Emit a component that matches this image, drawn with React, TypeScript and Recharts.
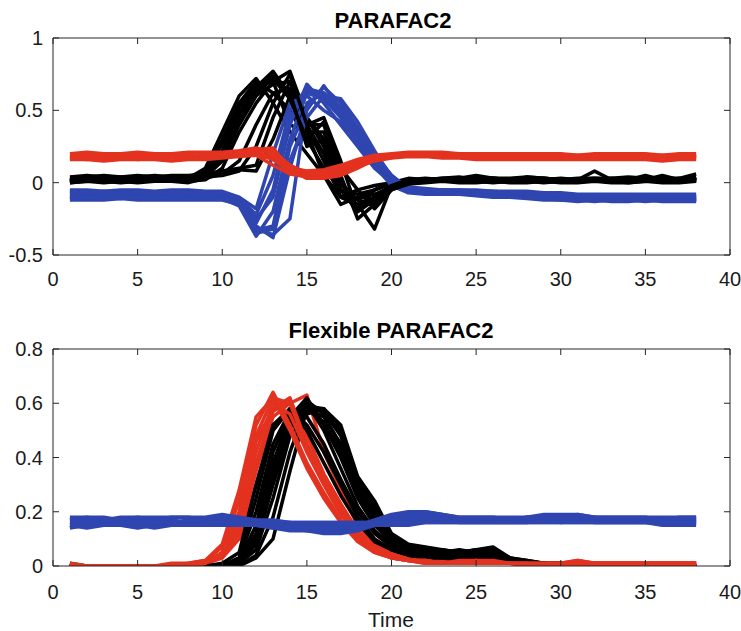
import React from "react";
import { LineChart, Line, XAxis, YAxis } from "recharts";

const TIME = [1, 2, 3, 4, 5, 6, 7, 8, 9, 10, 11, 12, 13, 14, 15, 16, 17, 18, 19, 20, 21, 22, 23, 24, 25, 26, 27, 28, 29, 30, 31, 32, 33, 34, 35, 36, 37, 38];
const X_TICKS = [0, 5, 10, 15, 20, 25, 30, 35, 40];
const TOP_Y_TICKS = [-0.5, 0, 0.5, 1];
const BOTTOM_Y_TICKS = [0, 0.2, 0.4, 0.6, 0.8];

// PARAFAC2 - red component
const topRed1 = [0.20, 0.21, 0.20, 0.20, 0.21, 0.20, 0.20, 0.21, 0.21, 0.21, 0.22, 0.24, 0.20, 0.10, 0.08, 0.09, 0.12, 0.16, 0.19, 0.20, 0.21, 0.21, 0.21, 0.20, 0.20, 0.20, 0.20, 0.20, 0.20, 0.20, 0.19, 0.20, 0.20, 0.20, 0.20, 0.19, 0.20, 0.20];
const topRed2 = [0.18, 0.18, 0.19, 0.18, 0.18, 0.18, 0.19, 0.18, 0.19, 0.19, 0.20, 0.22, 0.22, 0.12, 0.07, 0.06, 0.08, 0.13, 0.17, 0.19, 0.20, 0.20, 0.19, 0.19, 0.19, 0.18, 0.19, 0.19, 0.18, 0.19, 0.19, 0.18, 0.19, 0.18, 0.19, 0.18, 0.19, 0.18];
const topRed3 = [0.17, 0.16, 0.17, 0.17, 0.16, 0.17, 0.17, 0.17, 0.17, 0.18, 0.19, 0.20, 0.16, 0.08, 0.05, 0.05, 0.07, 0.12, 0.16, 0.18, 0.19, 0.19, 0.18, 0.18, 0.17, 0.18, 0.17, 0.17, 0.17, 0.17, 0.17, 0.17, 0.17, 0.17, 0.17, 0.17, 0.17, 0.17];
const topRed4 = [0.16, 0.16, 0.15, 0.16, 0.16, 0.16, 0.15, 0.16, 0.16, 0.17, 0.18, 0.19, 0.12, 0.06, 0.04, 0.04, 0.06, 0.11, 0.15, 0.17, 0.18, 0.18, 0.17, 0.17, 0.16, 0.16, 0.16, 0.16, 0.16, 0.16, 0.16, 0.16, 0.16, 0.16, 0.16, 0.15, 0.16, 0.16];
const topRed5 = [0.19, 0.19, 0.18, 0.19, 0.19, 0.19, 0.18, 0.19, 0.18, 0.20, 0.21, 0.23, 0.24, 0.09, 0.03, 0.03, 0.05, 0.10, 0.16, 0.18, 0.20, 0.20, 0.20, 0.19, 0.19, 0.19, 0.19, 0.18, 0.19, 0.18, 0.18, 0.19, 0.18, 0.19, 0.18, 0.19, 0.18, 0.19];
const topRed6 = [0.17, 0.18, 0.17, 0.17, 0.18, 0.17, 0.18, 0.17, 0.18, 0.18, 0.20, 0.21, 0.18, 0.10, 0.06, 0.07, 0.10, 0.14, 0.18, 0.19, 0.19, 0.20, 0.19, 0.18, 0.18, 0.18, 0.18, 0.18, 0.18, 0.18, 0.18, 0.18, 0.18, 0.18, 0.18, 0.18, 0.18, 0.18];

// PARAFAC2 - black component
const topBlack1 = [0.02, 0.03, 0.02, 0.03, 0.02, 0.03, 0.03, 0.04, 0.08, 0.30, 0.55, 0.70, 0.62, 0.50, 0.30, 0.10, -0.05, -0.08, -0.05, 0.00, 0.01, 0.02, 0.02, 0.01, 0.02, 0.01, 0.02, 0.02, 0.01, 0.02, 0.02, 0.02, 0.01, 0.02, 0.01, 0.02, 0.02, 0.02];
const topBlack2 = [0.01, 0.02, 0.02, 0.01, 0.02, 0.02, 0.02, 0.02, 0.05, 0.22, 0.48, 0.66, 0.77, 0.60, 0.40, 0.20, -0.10, -0.15, -0.10, -0.02, 0.01, 0.01, 0.02, 0.02, 0.01, 0.02, 0.02, 0.01, 0.02, 0.01, 0.02, 0.08, 0.02, 0.01, 0.02, 0.01, 0.02, 0.03];
const topBlack3 = [0.00, 0.01, 0.01, 0.00, 0.01, 0.01, 0.01, 0.01, 0.02, 0.10, 0.35, 0.55, 0.70, 0.77, 0.45, 0.25, -0.05, -0.20, -0.12, -0.03, 0.00, 0.01, 0.01, 0.02, 0.01, 0.00, 0.01, 0.01, 0.00, 0.01, 0.01, 0.01, 0.01, 0.00, 0.01, 0.02, 0.01, 0.01];
const topBlack4 = [0.01, 0.02, 0.01, 0.01, 0.02, 0.01, 0.02, 0.02, 0.03, 0.06, 0.15, 0.40, 0.62, 0.65, 0.38, 0.15, -0.10, -0.15, -0.32, -0.02, 0.01, 0.02, 0.01, 0.02, 0.02, 0.03, 0.02, 0.01, 0.02, 0.02, 0.01, 0.02, 0.02, 0.02, 0.05, 0.02, 0.02, 0.03];
const topBlack5 = [0.03, 0.04, 0.05, 0.04, 0.04, 0.05, 0.04, 0.04, 0.06, 0.08, 0.10, 0.12, 0.45, 0.70, 0.40, 0.40, 0.05, -0.25, -0.15, -0.05, 0.02, 0.03, 0.02, 0.03, 0.05, 0.03, 0.03, 0.04, 0.03, 0.02, 0.03, 0.03, 0.03, 0.04, 0.03, 0.03, 0.03, 0.06];
const topBlack6 = [0.00, 0.01, 0.00, 0.01, 0.00, 0.01, 0.01, 0.00, 0.03, 0.18, 0.42, 0.62, 0.72, 0.58, 0.30, 0.42, 0.10, -0.05, -0.18, -0.05, -0.01, 0.00, 0.01, 0.00, 0.00, 0.01, 0.00, 0.00, 0.01, 0.00, 0.00, 0.01, 0.00, 0.00, 0.01, 0.00, 0.00, 0.01];
const topBlack7 = [0.02, 0.01, 0.02, 0.02, 0.01, 0.02, 0.02, 0.02, 0.07, 0.27, 0.52, 0.68, 0.70, 0.40, 0.35, 0.05, -0.15, -0.10, -0.08, -0.03, 0.02, 0.01, 0.02, 0.01, 0.03, 0.02, 0.01, 0.04, 0.03, 0.02, 0.01, 0.02, 0.03, 0.02, 0.02, 0.01, 0.03, 0.02];
const topBlack8 = [0.04, 0.05, 0.04, 0.04, 0.05, 0.04, 0.05, 0.05, 0.06, 0.07, 0.09, 0.08, 0.30, 0.60, 0.45, 0.30, 0.00, -0.18, -0.05, 0.00, 0.03, 0.02, 0.03, 0.03, 0.02, 0.03, 0.02, 0.03, 0.02, 0.03, 0.02, 0.02, 0.02, 0.02, 0.02, 0.03, 0.02, 0.02];
const topBlack9 = [0.01, 0.01, 0.02, 0.02, 0.02, 0.02, 0.01, 0.02, 0.04, 0.15, 0.40, 0.60, 0.68, 0.70, 0.35, 0.35, 0.00, -0.12, -0.05, -0.01, 0.01, 0.02, 0.02, 0.02, 0.02, 0.02, 0.02, 0.02, 0.02, 0.02, 0.02, 0.02, 0.02, 0.02, 0.02, 0.02, 0.02, 0.02];
const topBlack10 = [0.03, 0.02, 0.03, 0.03, 0.02, 0.03, 0.02, 0.03, 0.10, 0.35, 0.60, 0.72, 0.55, 0.35, 0.20, 0.05, -0.10, -0.05, -0.02, 0.00, 0.02, 0.01, 0.02, 0.02, 0.01, 0.02, 0.01, 0.02, 0.02, 0.01, 0.02, 0.01, 0.02, 0.01, 0.02, 0.02, 0.01, 0.02];
const topBlack11 = [0.02, 0.03, 0.03, 0.02, 0.03, 0.03, 0.03, 0.03, 0.04, 0.05, 0.08, 0.25, 0.55, 0.75, 0.40, 0.45, 0.15, -0.20, -0.10, -0.02, 0.02, 0.02, 0.03, 0.04, 0.02, 0.03, 0.02, 0.02, 0.03, 0.02, 0.02, 0.03, 0.02, 0.03, 0.02, 0.05, 0.02, 0.03];
const topBlack12 = [0.01, 0.02, 0.01, 0.02, 0.01, 0.02, 0.02, 0.01, 0.05, 0.20, 0.45, 0.64, 0.74, 0.62, 0.25, 0.30, -0.05, -0.12, -0.15, -0.04, 0.00, 0.01, 0.01, 0.01, 0.02, 0.01, 0.01, 0.01, 0.01, 0.01, 0.01, 0.01, 0.01, 0.01, 0.01, 0.01, 0.01, 0.04];

// PARAFAC2 - blue component
const topBlue1 = [-0.06, -0.07, -0.06, -0.07, -0.06, -0.07, -0.07, -0.06, -0.07, -0.08, -0.12, -0.25, -0.10, 0.40, 0.68, 0.55, 0.40, 0.25, 0.10, 0.00, -0.04, -0.05, -0.05, -0.06, -0.06, -0.07, -0.07, -0.08, -0.08, -0.09, -0.09, -0.10, -0.09, -0.10, -0.09, -0.10, -0.10, -0.09];
const topBlue2 = [-0.08, -0.09, -0.08, -0.08, -0.09, -0.08, -0.09, -0.08, -0.09, -0.09, -0.14, -0.30, -0.38, 0.10, 0.50, 0.67, 0.50, 0.32, 0.15, 0.02, -0.05, -0.06, -0.06, -0.07, -0.07, -0.08, -0.08, -0.09, -0.09, -0.10, -0.10, -0.10, -0.11, -0.10, -0.11, -0.11, -0.10, -0.11];
const topBlue3 = [-0.10, -0.11, -0.10, -0.10, -0.11, -0.10, -0.11, -0.10, -0.10, -0.11, -0.16, -0.37, -0.20, 0.30, 0.62, 0.58, 0.45, 0.28, 0.12, 0.00, -0.06, -0.07, -0.07, -0.07, -0.08, -0.09, -0.09, -0.10, -0.11, -0.11, -0.12, -0.12, -0.12, -0.12, -0.12, -0.12, -0.12, -0.12];
const topBlue4 = [-0.12, -0.12, -0.12, -0.11, -0.12, -0.12, -0.12, -0.12, -0.12, -0.12, -0.15, -0.32, -0.36, -0.25, 0.55, 0.62, 0.48, 0.30, 0.12, -0.02, -0.07, -0.08, -0.08, -0.08, -0.09, -0.10, -0.10, -0.11, -0.12, -0.12, -0.13, -0.12, -0.13, -0.13, -0.12, -0.13, -0.13, -0.13];
const topBlue5 = [-0.05, -0.05, -0.06, -0.05, -0.05, -0.06, -0.05, -0.05, -0.06, -0.06, -0.10, -0.18, 0.20, 0.55, 0.60, 0.50, 0.42, 0.30, 0.15, 0.03, -0.03, -0.04, -0.05, -0.05, -0.05, -0.06, -0.06, -0.06, -0.07, -0.07, -0.08, -0.08, -0.08, -0.08, -0.08, -0.08, -0.08, -0.08];
const topBlue6 = [-0.07, -0.08, -0.07, -0.08, -0.07, -0.08, -0.08, -0.07, -0.08, -0.09, -0.13, -0.28, -0.05, 0.45, 0.64, 0.60, 0.48, 0.35, 0.18, 0.05, -0.04, -0.06, -0.06, -0.06, -0.07, -0.07, -0.08, -0.09, -0.09, -0.10, -0.10, -0.11, -0.10, -0.11, -0.11, -0.10, -0.11, -0.11];
const topBlue7 = [-0.09, -0.10, -0.09, -0.10, -0.10, -0.09, -0.10, -0.10, -0.09, -0.10, -0.13, -0.33, -0.30, 0.25, 0.52, 0.66, 0.55, 0.38, 0.20, 0.05, -0.05, -0.06, -0.07, -0.07, -0.08, -0.08, -0.09, -0.10, -0.10, -0.11, -0.11, -0.12, -0.12, -0.11, -0.12, -0.12, -0.12, -0.12];
const topBlue8 = [-0.06, -0.06, -0.07, -0.06, -0.06, -0.07, -0.06, -0.06, -0.07, -0.07, -0.11, -0.22, 0.05, 0.50, 0.65, 0.62, 0.52, 0.36, 0.18, 0.04, -0.03, -0.05, -0.05, -0.05, -0.06, -0.06, -0.07, -0.07, -0.08, -0.08, -0.09, -0.09, -0.09, -0.09, -0.09, -0.09, -0.09, -0.09];
const topBlue9 = [-0.11, -0.10, -0.11, -0.11, -0.10, -0.11, -0.10, -0.11, -0.11, -0.11, -0.15, -0.35, -0.32, 0.15, 0.45, 0.60, 0.58, 0.42, 0.22, 0.04, -0.06, -0.07, -0.07, -0.08, -0.08, -0.09, -0.10, -0.10, -0.11, -0.12, -0.12, -0.13, -0.12, -0.12, -0.13, -0.12, -0.12, -0.12];

// Flexible PARAFAC2 - red component
const botRed1 = [0.00, 0.00, 0.00, 0.00, 0.00, 0.00, 0.00, 0.01, 0.02, 0.07, 0.24, 0.52, 0.64, 0.52, 0.38, 0.27, 0.17, 0.10, 0.05, 0.03, 0.02, 0.01, 0.01, 0.01, 0.01, 0.01, 0.01, 0.00, 0.00, 0.00, 0.00, 0.00, 0.00, 0.00, 0.00, 0.00, 0.00, 0.00];
const botRed2 = [0.00, 0.00, 0.00, 0.00, 0.00, 0.00, 0.00, 0.00, 0.01, 0.05, 0.20, 0.46, 0.58, 0.62, 0.45, 0.32, 0.21, 0.12, 0.06, 0.03, 0.02, 0.02, 0.01, 0.02, 0.02, 0.01, 0.01, 0.01, 0.01, 0.01, 0.01, 0.01, 0.01, 0.01, 0.01, 0.01, 0.01, 0.01];
const botRed3 = [0.00, 0.00, 0.00, 0.00, 0.00, 0.00, 0.00, 0.00, 0.01, 0.03, 0.12, 0.35, 0.55, 0.60, 0.63, 0.42, 0.28, 0.15, 0.08, 0.04, 0.02, 0.02, 0.02, 0.02, 0.03, 0.02, 0.01, 0.01, 0.01, 0.01, 0.02, 0.01, 0.01, 0.01, 0.01, 0.01, 0.01, 0.01];
const botRed4 = [0.01, 0.00, 0.00, 0.00, 0.00, 0.00, 0.00, 0.00, 0.01, 0.04, 0.16, 0.42, 0.60, 0.56, 0.42, 0.30, 0.19, 0.11, 0.06, 0.03, 0.02, 0.02, 0.01, 0.01, 0.02, 0.01, 0.01, 0.00, 0.00, 0.00, 0.01, 0.00, 0.00, 0.00, 0.00, 0.00, 0.00, 0.00];
const botRed5 = [0.00, 0.00, 0.00, 0.00, 0.00, 0.00, 0.00, 0.00, 0.01, 0.03, 0.10, 0.30, 0.50, 0.58, 0.55, 0.45, 0.30, 0.18, 0.09, 0.05, 0.03, 0.03, 0.02, 0.02, 0.02, 0.02, 0.01, 0.01, 0.01, 0.01, 0.01, 0.01, 0.01, 0.01, 0.01, 0.01, 0.01, 0.01];
const botRed6 = [0.00, 0.00, 0.00, 0.00, 0.00, 0.00, 0.01, 0.01, 0.02, 0.08, 0.28, 0.55, 0.62, 0.50, 0.36, 0.25, 0.16, 0.09, 0.05, 0.03, 0.02, 0.01, 0.01, 0.01, 0.01, 0.01, 0.01, 0.01, 0.00, 0.00, 0.00, 0.00, 0.00, 0.00, 0.00, 0.00, 0.00, 0.00];
const botRed7 = [0.00, 0.00, 0.00, 0.00, 0.00, 0.00, 0.00, 0.00, 0.01, 0.05, 0.18, 0.48, 0.62, 0.60, 0.44, 0.31, 0.20, 0.12, 0.06, 0.03, 0.02, 0.02, 0.01, 0.01, 0.02, 0.02, 0.01, 0.01, 0.01, 0.01, 0.02, 0.01, 0.01, 0.01, 0.01, 0.01, 0.01, 0.01];
const botRed8 = [0.00, 0.00, 0.00, 0.00, 0.00, 0.00, 0.00, 0.00, 0.01, 0.04, 0.14, 0.38, 0.57, 0.61, 0.48, 0.34, 0.23, 0.13, 0.07, 0.04, 0.03, 0.02, 0.02, 0.02, 0.03, 0.02, 0.01, 0.01, 0.01, 0.01, 0.01, 0.01, 0.01, 0.01, 0.01, 0.01, 0.01, 0.01];

// Flexible PARAFAC2 - black component
const botBlack1 = [0.01, 0.00, 0.00, 0.00, 0.00, 0.00, 0.00, 0.00, 0.00, 0.01, 0.05, 0.30, 0.52, 0.58, 0.50, 0.38, 0.26, 0.16, 0.09, 0.06, 0.04, 0.03, 0.03, 0.02, 0.02, 0.02, 0.01, 0.01, 0.00, 0.00, 0.00, 0.00, 0.00, 0.00, 0.00, 0.00, 0.00, 0.00];
const botBlack2 = [0.00, 0.00, 0.00, 0.00, 0.00, 0.00, 0.00, 0.00, 0.00, 0.00, 0.03, 0.20, 0.45, 0.57, 0.55, 0.45, 0.32, 0.20, 0.12, 0.07, 0.05, 0.04, 0.04, 0.03, 0.03, 0.03, 0.02, 0.01, 0.01, 0.00, 0.00, 0.00, 0.00, 0.00, 0.00, 0.00, 0.00, 0.00];
const botBlack3 = [0.00, 0.00, 0.00, 0.00, 0.00, 0.00, 0.00, 0.00, 0.00, 0.00, 0.02, 0.12, 0.38, 0.55, 0.62, 0.52, 0.40, 0.25, 0.15, 0.09, 0.06, 0.05, 0.04, 0.04, 0.05, 0.04, 0.02, 0.01, 0.01, 0.00, 0.00, 0.00, 0.00, 0.00, 0.00, 0.00, 0.00, 0.00];
const botBlack4 = [0.00, 0.00, 0.00, 0.00, 0.00, 0.00, 0.00, 0.00, 0.00, 0.00, 0.01, 0.06, 0.25, 0.48, 0.56, 0.58, 0.52, 0.33, 0.24, 0.12, 0.08, 0.07, 0.06, 0.05, 0.06, 0.07, 0.03, 0.02, 0.01, 0.01, 0.00, 0.00, 0.00, 0.00, 0.00, 0.00, 0.00, 0.00];
const botBlack5 = [0.00, 0.00, 0.00, 0.00, 0.00, 0.00, 0.00, 0.00, 0.00, 0.00, 0.00, 0.03, 0.10, 0.35, 0.58, 0.55, 0.45, 0.30, 0.20, 0.11, 0.07, 0.06, 0.05, 0.06, 0.05, 0.06, 0.03, 0.01, 0.01, 0.00, 0.00, 0.00, 0.00, 0.00, 0.00, 0.00, 0.00, 0.00];
const botBlack6 = [0.00, 0.00, 0.00, 0.00, 0.00, 0.00, 0.00, 0.00, 0.00, 0.00, 0.02, 0.15, 0.42, 0.56, 0.60, 0.50, 0.36, 0.22, 0.13, 0.08, 0.05, 0.04, 0.03, 0.03, 0.04, 0.03, 0.02, 0.01, 0.00, 0.00, 0.00, 0.00, 0.00, 0.00, 0.00, 0.00, 0.00, 0.00];
const botBlack7 = [0.00, 0.00, 0.00, 0.00, 0.00, 0.00, 0.00, 0.00, 0.00, 0.00, 0.01, 0.08, 0.30, 0.50, 0.60, 0.57, 0.48, 0.28, 0.18, 0.10, 0.07, 0.06, 0.05, 0.05, 0.06, 0.05, 0.02, 0.01, 0.00, 0.00, 0.00, 0.00, 0.00, 0.00, 0.00, 0.00, 0.00, 0.00];
const botBlack8 = [0.00, 0.00, 0.00, 0.00, 0.00, 0.00, 0.00, 0.00, 0.00, 0.00, 0.01, 0.10, 0.35, 0.54, 0.58, 0.53, 0.42, 0.27, 0.17, 0.09, 0.06, 0.05, 0.04, 0.04, 0.04, 0.04, 0.02, 0.01, 0.00, 0.00, 0.00, 0.00, 0.00, 0.00, 0.00, 0.00, 0.00, 0.00];
const botBlack9 = [0.00, 0.00, 0.00, 0.00, 0.00, 0.00, 0.00, 0.00, 0.00, 0.00, 0.03, 0.25, 0.50, 0.58, 0.52, 0.42, 0.30, 0.18, 0.10, 0.06, 0.04, 0.03, 0.03, 0.03, 0.02, 0.02, 0.01, 0.01, 0.00, 0.00, 0.00, 0.00, 0.00, 0.00, 0.00, 0.00, 0.00, 0.00];
const botBlack10 = [0.00, 0.00, 0.00, 0.00, 0.00, 0.00, 0.00, 0.00, 0.00, 0.00, 0.00, 0.04, 0.18, 0.42, 0.59, 0.58, 0.50, 0.32, 0.22, 0.11, 0.07, 0.06, 0.06, 0.05, 0.05, 0.06, 0.03, 0.02, 0.01, 0.00, 0.00, 0.00, 0.00, 0.00, 0.00, 0.00, 0.00, 0.00];
const botBlack11 = [0.00, 0.00, 0.00, 0.00, 0.00, 0.00, 0.00, 0.00, 0.00, 0.00, 0.01, 0.09, 0.33, 0.52, 0.61, 0.56, 0.44, 0.30, 0.19, 0.10, 0.06, 0.05, 0.05, 0.04, 0.05, 0.05, 0.02, 0.01, 0.00, 0.00, 0.00, 0.00, 0.00, 0.00, 0.00, 0.00, 0.00, 0.00];

// Flexible PARAFAC2 - blue component
const botBlue1 = [0.18, 0.18, 0.17, 0.18, 0.18, 0.18, 0.18, 0.18, 0.18, 0.19, 0.18, 0.17, 0.16, 0.16, 0.15, 0.14, 0.14, 0.15, 0.17, 0.19, 0.20, 0.20, 0.19, 0.18, 0.18, 0.18, 0.18, 0.18, 0.19, 0.19, 0.19, 0.18, 0.18, 0.18, 0.18, 0.18, 0.18, 0.18];
const botBlue2 = [0.16, 0.16, 0.17, 0.16, 0.16, 0.16, 0.17, 0.16, 0.17, 0.17, 0.16, 0.16, 0.16, 0.16, 0.16, 0.16, 0.16, 0.16, 0.16, 0.17, 0.17, 0.17, 0.17, 0.17, 0.17, 0.17, 0.17, 0.17, 0.17, 0.17, 0.17, 0.17, 0.17, 0.17, 0.17, 0.17, 0.17, 0.17];
const botBlue3 = [0.14, 0.15, 0.15, 0.15, 0.14, 0.15, 0.15, 0.15, 0.15, 0.15, 0.15, 0.15, 0.15, 0.15, 0.15, 0.15, 0.15, 0.15, 0.15, 0.15, 0.15, 0.16, 0.16, 0.16, 0.16, 0.16, 0.16, 0.16, 0.16, 0.16, 0.16, 0.16, 0.16, 0.16, 0.16, 0.15, 0.15, 0.15];
const botBlue4 = [0.17, 0.17, 0.16, 0.17, 0.17, 0.17, 0.16, 0.17, 0.17, 0.17, 0.16, 0.15, 0.14, 0.14, 0.13, 0.13, 0.13, 0.14, 0.16, 0.18, 0.19, 0.19, 0.18, 0.17, 0.17, 0.17, 0.17, 0.18, 0.18, 0.18, 0.18, 0.18, 0.17, 0.17, 0.17, 0.17, 0.17, 0.17];
const botBlue5 = [0.15, 0.14, 0.15, 0.15, 0.15, 0.14, 0.15, 0.15, 0.15, 0.16, 0.16, 0.15, 0.14, 0.13, 0.13, 0.12, 0.12, 0.13, 0.15, 0.17, 0.18, 0.18, 0.17, 0.16, 0.16, 0.16, 0.16, 0.16, 0.16, 0.16, 0.17, 0.16, 0.16, 0.16, 0.16, 0.16, 0.16, 0.16];
const botBlue6 = [0.17, 0.18, 0.18, 0.17, 0.18, 0.17, 0.18, 0.18, 0.17, 0.18, 0.17, 0.16, 0.15, 0.15, 0.14, 0.14, 0.14, 0.14, 0.16, 0.18, 0.19, 0.20, 0.19, 0.18, 0.18, 0.18, 0.17, 0.18, 0.18, 0.18, 0.19, 0.18, 0.18, 0.18, 0.18, 0.17, 0.18, 0.18];
const botBlue7 = [0.15, 0.16, 0.15, 0.16, 0.15, 0.16, 0.16, 0.15, 0.16, 0.16, 0.17, 0.17, 0.17, 0.16, 0.16, 0.16, 0.16, 0.16, 0.16, 0.16, 0.16, 0.16, 0.16, 0.16, 0.16, 0.16, 0.16, 0.16, 0.17, 0.16, 0.16, 0.16, 0.16, 0.16, 0.16, 0.16, 0.16, 0.16];

const RED = "#e3321f";
const BLUE = "#2f45b0";
const BLACK = "#000000";
const AXIS = "#262626";
const FONT = "Arial, 'Liberation Sans', Helvetica, sans-serif";

type Group = { name: string; color: string; lines: number[][] };

// drawing order follows the reference (later groups sit on top)
const TOP_GROUPS: Group[] = [
  { name: "tkA", color: BLACK, lines: [topBlack1, topBlack2, topBlack3, topBlack4, topBlack5, topBlack7, topBlack8, topBlack9, topBlack10] },
  { name: "tb", color: BLUE, lines: [topBlue1, topBlue2, topBlue3, topBlue4, topBlue5, topBlue6, topBlue7, topBlue8, topBlue9] },
  { name: "tkB", color: BLACK, lines: [topBlack6, topBlack11, topBlack12] },
  { name: "tr", color: RED, lines: [topRed1, topRed2, topRed3, topRed4, topRed5, topRed6] },
];

const BOTTOM_GROUPS: Group[] = [
  { name: "brA", color: RED, lines: [botRed3, botRed5, botRed8] },
  { name: "bk", color: BLACK, lines: [botBlack1, botBlack2, botBlack3, botBlack4, botBlack5, botBlack6, botBlack7, botBlack8, botBlack9, botBlack10, botBlack11] },
  { name: "brB", color: RED, lines: [botRed1, botRed2, botRed4, botRed6, botRed7] },
  { name: "bb", color: BLUE, lines: [botBlue1, botBlue2, botBlue3, botBlue4, botBlue5, botBlue6, botBlue7] },
];

function buildRows(groups: Group[]) {
  return TIME.map((t, i) => {
    const row: Record<string, number> = { time: t };
    groups.forEach((g) => g.lines.forEach((vals, j) => { row[`${g.name}${j}`] = vals[i]; }));
    return row;
  });
}

const tickStyle = { fontSize: 20, fill: "#1a1a1a", fontFamily: FONT };
const NoLabel = () => <g />;

function Panel({ groups, yDomain, yTicks, height, top, bottom, labelGap }: {
  groups: Group[]; yDomain: [number, number]; yTicks: number[]; height: number; top: number; bottom: number; labelGap: number;
}) {
  const rows = buildRows(groups);
  const series = groups.flatMap((g) => g.lines.map((_, j) => ({ key: `${g.name}${j}`, color: g.color })));
  return (
    <LineChart width={741} height={height} data={rows} margin={{ top, right: 10, bottom, left: 8 }}>
      <XAxis dataKey="time" type="number" domain={[0, 40]} ticks={X_TICKS} interval={0} allowDataOverflow
        height={30} tickSize={-6} tickMargin={labelGap + 6} tick={tickStyle}
        axisLine={{ stroke: AXIS }} tickLine={{ stroke: AXIS }} />
      <XAxis xAxisId="top" orientation="top" dataKey="time" type="number" domain={[0, 40]} ticks={X_TICKS} interval={0} allowDataOverflow
        height={1} tickSize={-6} tick={NoLabel} axisLine={{ stroke: AXIS }} tickLine={{ stroke: AXIS }} />
      <YAxis type="number" domain={yDomain} ticks={yTicks} interval={0} allowDataOverflow
        width={45} tickSize={-6} tickMargin={16} tick={tickStyle}
        axisLine={{ stroke: AXIS }} tickLine={{ stroke: AXIS }} />
      <YAxis yAxisId="right" orientation="right" type="number" domain={yDomain} ticks={yTicks} interval={0} allowDataOverflow
        width={1} tickSize={-6} tick={NoLabel} axisLine={{ stroke: AXIS }} tickLine={{ stroke: AXIS }} />
      {series.map((s, i) => (
        <Line key={s.key} dataKey={s.key} type="linear" stroke={s.color} strokeWidth={3.5}
          xAxisId={i === 0 ? "top" : 0} yAxisId={i === 0 ? "right" : 0}
          strokeLinejoin="round" dot={false} activeDot={false} isAnimationActive={false} />
      ))}
    </LineChart>
  );
}

export default function App() {
  return (
    <div style={{ position: "absolute", left: 0, top: 0, width: 741, height: 631, background: "#fff", fontFamily: FONT }}>
      <div style={{ position: "absolute", left: 0, top: 0 }}>
        <Panel groups={TOP_GROUPS} yDomain={[-0.5, 1]} yTicks={TOP_Y_TICKS} height={300} top={37} bottom={15} labelGap={17} />
      </div>
      <div style={{ position: "absolute", left: 0, top: 300 }}>
        <Panel groups={BOTTOM_GROUPS} yDomain={[0, 0.8]} yTicks={BOTTOM_Y_TICKS} height={331} top={48} bottom={35} labelGap={19} />
      </div>
      <svg width={741} height={631} style={{ position: "absolute", left: 0, top: 0, pointerEvents: "none" }}>
        <text x={393} y={28} textAnchor="middle" fontSize={22} fontWeight="bold" fontFamily={FONT} fill="#000">PARAFAC2</text>
        <text x={391} y={338} textAnchor="middle" fontSize={22} fontWeight="bold" fontFamily={FONT} fill="#000">Flexible PARAFAC2</text>
        <text x={391} y={627} textAnchor="middle" fontSize={21} fontFamily={FONT} fill="#1a1a1a">Time</text>
      </svg>
    </div>
  );
}
